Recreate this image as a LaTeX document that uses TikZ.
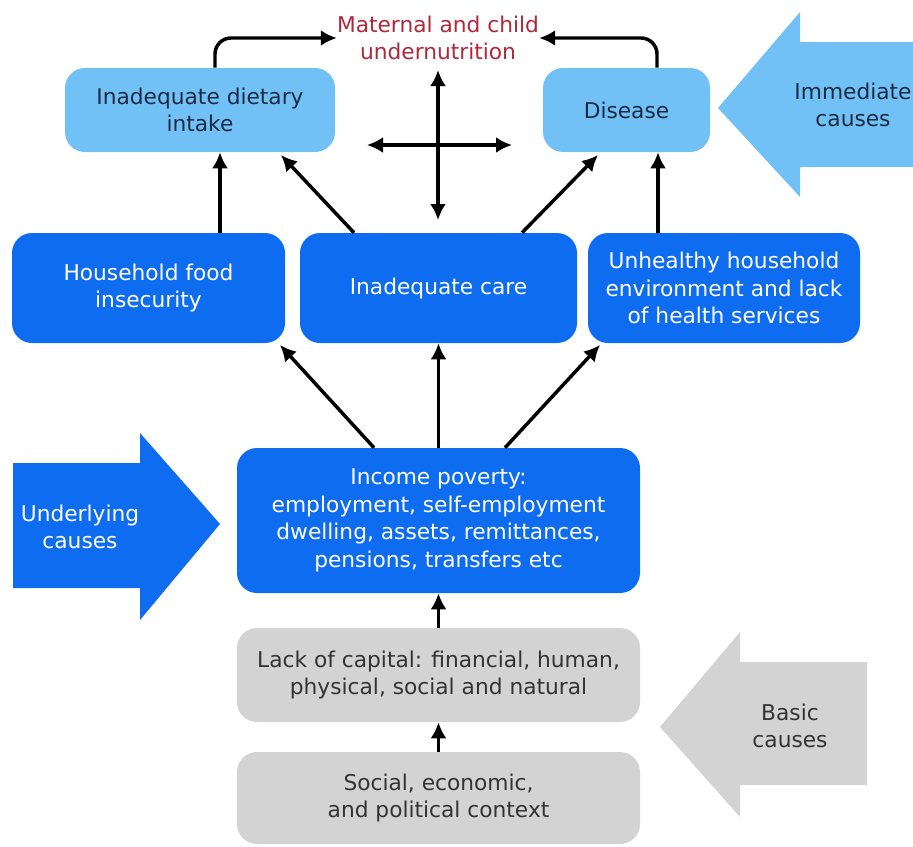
\documentclass[tikz,border=0pt]{standalone}
\usepackage{fontspec}
\setmainfont{DejaVu Sans}
\usetikzlibrary{arrows.meta,calc}
\definecolor{lblue}{HTML}{72C1F6}
\definecolor{dblue}{HTML}{0E6CF0}
\definecolor{lgrey}{HTML}{D3D3D3}
\definecolor{navy}{HTML}{1C2B45}
\definecolor{dred}{HTML}{B0283A}
\definecolor{dgrey}{HTML}{333333}
\tikzset{
  box/.style={rounded corners=15pt, align=center, font=\fontsize{16.3}{20.6}\selectfont, inner sep=0pt},
  lbox/.style={box, fill=lblue, text=navy},
  bbox/.style={box, fill=dblue, text=white},
  gbox/.style={box, fill=lgrey, text=dgrey},
  arr/.style={line width=2.6pt, -{Latex[length=12pt,width=12pt]}},
  darr/.style={line width=2.6pt, {Latex[length=12pt,width=12pt]}-{Latex[length=12pt,width=12pt]}},
  lbl/.style={align=center, font=\fontsize{16.3}{20.6}\selectfont, inner sep=0pt},
}
\begin{document}
\begin{tikzpicture}[x=0.75pt,y=-0.75pt]
\useasboundingbox (0,0) rectangle (913,846);
% big arrows
\fill[lblue] (913,42) -- (800,42) -- (800,12) -- (718,108) -- (800,197) -- (800,167) -- (913,167) -- cycle;
\node[lbl, text=navy] (imm) at (853,105) {Immediate\\causes};
\fill[dblue] (13,463) -- (140,463) -- (140,433) -- (220,524) -- (140,620) -- (140,588) -- (13,588) -- cycle;
\node[lbl, text=white] (und) at (80,527) {Underlying\\causes};
\fill[lgrey] (867,662) -- (740,662) -- (740,632) -- (660,727) -- (740,817) -- (740,785) -- (867,785) -- cycle;
\node[lbl, text=dgrey] (bas) at (790,726) {Basic\\causes};
% title
\node[lbl, text=dred] (title) at (438,38) {Maternal and child\\undernutrition};
% boxes
\node[lbox, minimum width=202.5pt, minimum height=63pt] (diet) at (200,110) {Inadequate dietary\\intake};
\node[lbox, minimum width=125.25pt, minimum height=63pt] (dis) at (626.5,110) {Disease};
\node[bbox, minimum width=204.75pt, minimum height=82.5pt] (food) at (148.5,288) {Household food\\insecurity};
\node[bbox, minimum width=207.75pt, minimum height=82.5pt] (care) at (438.5,288) {Inadequate care};
\node[bbox, minimum width=204pt, minimum height=82.5pt] (env) at (724,288) {Unhealthy household\\environment and lack\\of health services};
\node[bbox, minimum width=302.25pt, minimum height=108.75pt] (inc) at (438.5,520.5) {Income poverty:\\employment, self-employment\\dwelling, assets, remittances,\\pensions, transfers etc};
\node[gbox, minimum width=302.25pt, minimum height=70.5pt] (lack) at (438.5,675) {Lack of capital: financial, human,\\physical, social and natural};
\node[gbox, minimum width=302.25pt, minimum height=69pt] (soc) at (438.5,798) {Social, economic,\\and political context};
% top arrows
\draw[arr, rounded corners=12pt] (diet.north -| 215,0) -- (215,38) -- (title.west |- 0,38);
\draw[arr, rounded corners=12pt] (dis.north -| 657,0) -- (657,38) -- (title.east |- 0,38);
\draw[darr] (438,70) -- (438,220);
\draw[darr] (367,145) -- (512,145);
% middle to top
\draw[arr] (food.north -| 220,0) -- (diet.south -| 220,0);
\draw[arr] (care.north -| 354,0) -- (281,155);
\draw[arr] (care.north -| 522,0) -- (598,155);
\draw[arr] (env.north -| 658,0) -- (dis.south -| 658,0);
% income to middle
\draw[arr] (inc.north -| 374,0) -- (280,345);
\draw[arr] (inc.north) -- (care.south);
\draw[arr] (inc.north -| 505,0) -- (600,345);
% bottom
\draw[arr] (lack.north) -- (inc.south);
\draw[arr] (soc.north) -- (lack.south);
\end{tikzpicture}
\end{document}
